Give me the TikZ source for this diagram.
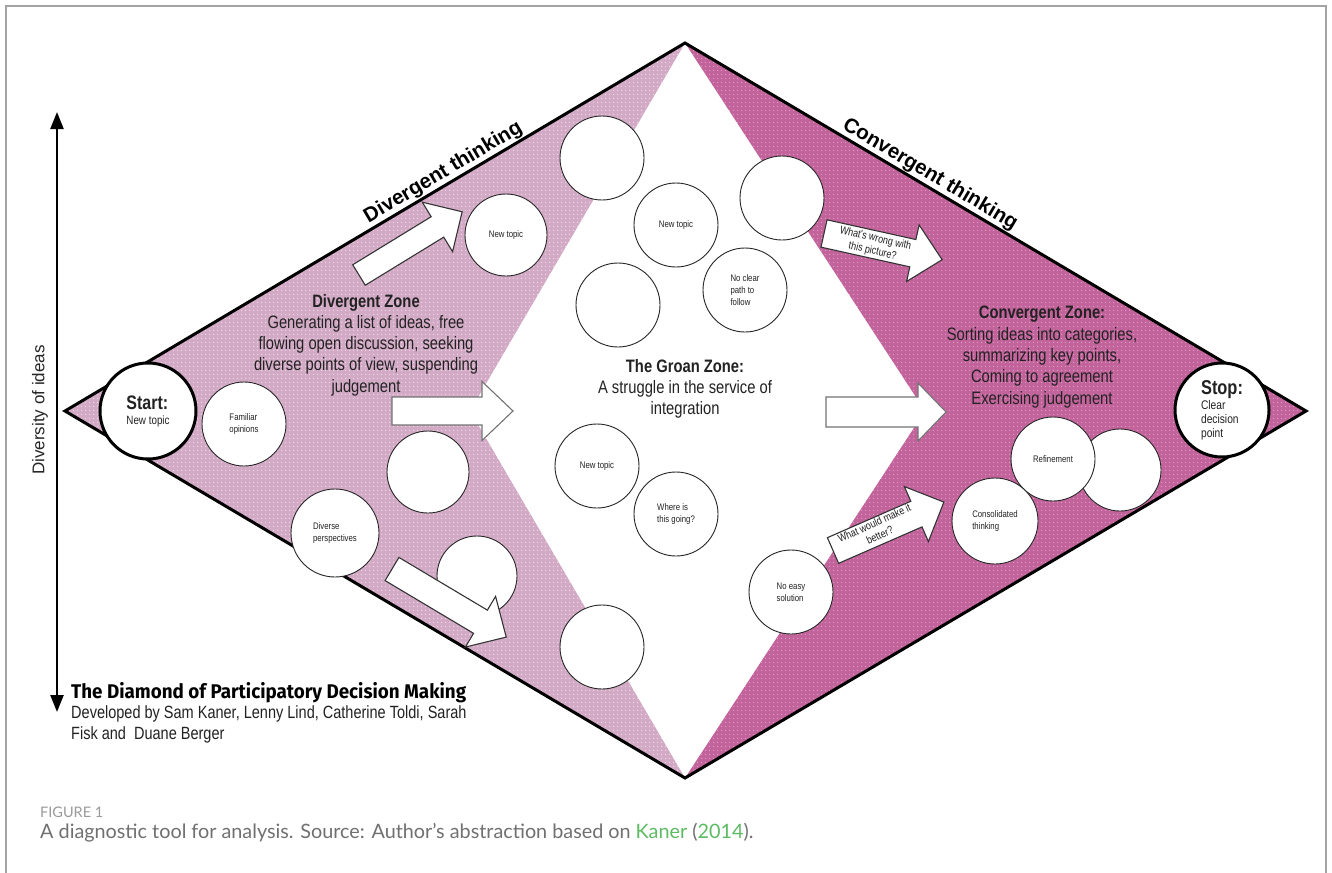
\documentclass[tikz,border=0pt]{standalone}
\usepackage{fontspec}
\setmainfont{Liberation Sans}
\newfontfamily\narrowfont{Liberation Sans}[FakeStretch=0.82]
\newfontfamily\titlefont{Fira Sans}[FakeStretch=0.95]
\newfontfamily\capfont{Lato}
\usetikzlibrary{arrows.meta,patterns.meta}

\definecolor{lightzone}{HTML}{D3AAC6}
\definecolor{lightdot}{HTML}{EEDCE9}
\definecolor{darkzone}{HTML}{C2639C}
\definecolor{darkdot}{HTML}{DDA2C5}
\definecolor{framegray}{HTML}{A3A3A3}
\definecolor{capgray}{HTML}{707070}
\definecolor{figgray}{HTML}{9A9A9A}
\definecolor{capgreen}{HTML}{5DBB63}
\definecolor{inktext}{HTML}{222222}

% fine dot texture laid over the two zones
\pgfdeclarepattern{
  name=softdots,
  type=uncolored,
  bottom left={\pgfpoint{0pt}{0pt}},
  top right={\pgfpoint{4pt}{4pt}},
  tile size={\pgfpoint{4pt}{4pt}},
  code={\pgfpathcircle{\pgfpoint{2pt}{2pt}}{0.7pt}\pgfusepath{fill}}
}

% block arrow: tail centre x, y, angle, length, shaft width, head width, head length, style
\newcommand\fatarrow[8]{%
  \begin{scope}[shift={(#1,#2)}, rotate=#3]
    \draw[#8] (0,#5/2) -- ({#4-#7},#5/2) -- ({#4-#7},#6/2) -- (#4,0)
      -- ({#4-#7},-#6/2) -- ({#4-#7},-#5/2) -- (0,-#5/2) -- cycle;
  \end{scope}}

\tikzset{
  edge/.style={line width=3pt, line join=miter, black},
  idea/.style={circle, draw=black!85, line width=0.9pt, fill=white, inner sep=0pt,
    align=left, text=inktext, font=\narrowfont\fontsize{9.5}{12}\selectfont},
  endpoint/.style={circle, draw=black, line width=3pt, fill=white, inner sep=0pt,
    align=left, text=inktext},
  zonetext/.style={align=center, text=inktext, inner sep=0pt,
    font=\narrowfont\fontsize{18}{21.3}\selectfont},
  blockgray/.style={draw=black!55, line width=1.1pt, fill=white, line join=miter},
  blockdark/.style={draw=black!80, line width=1.1pt, fill=white, line join=miter},
  arrowtext/.style={align=center, text=inktext, inner sep=0pt,
    font=\narrowfont\fontsize{11}{13}\selectfont},
  thinking/.style={font=\bfseries\fontsize{20.5}{24}\selectfont, inner sep=2pt}
}

\begin{document}
\begin{tikzpicture}[x=1pt, y=-1pt]
\useasboundingbox (0,0) rectangle (1332,872);
\fill[white] (0,0) rectangle (1332,872);

% frame
\draw[framegray, line width=1.3pt] (6,890) -- (6,6) -- (1326,6) -- (1326,890);

% diamond corners and the corners of the open middle zone
\coordinate (L) at (65,411);
\coordinate (T) at (685,43);
\coordinate (R) at (1306,411);
\coordinate (B) at (685,778);
\coordinate (WL) at (470,411);
\coordinate (WR) at (925,411);

% divergent and convergent zones
\fill[lightzone] (L) -- (T) -- (WL) -- (B) -- cycle;
\fill[pattern=softdots, pattern color=lightdot] (L) -- (T) -- (WL) -- (B) -- cycle;
\fill[darkzone] (T) -- (R) -- (B) -- (WR) -- cycle;
\fill[pattern=softdots, pattern color=darkdot] (T) -- (R) -- (B) -- (WR) -- cycle;

% diamond outline
\draw[edge] (L) -- (T) -- (R) -- (B) -- cycle;

% edge titles
\path (L) -- (T) node[pos=0.62, sloped, anchor=south, thinking] (divthink) {Divergent thinking};
\path (T) -- (R) node[pos=0.385, sloped, anchor=south, thinking] (convthink) {Convergent thinking};

% vertical axis
\coordinate (axtop) at (57,112);
\coordinate (axbot) at (57,712);
\draw[line width=2.4pt, {Triangle[length=17pt,width=13pt]}-{Triangle[length=17pt,width=13pt]}] (axtop) -- (axbot);
\node[rotate=90, text=black!85, font=\fontsize{17}{20}\selectfont] (axlabel) at (40,410) {Diversity of ideas};

% idea circles
\node[idea, minimum size=84pt] (famop) at (244,424) {Familiar\\opinions};
\node[idea, minimum size=88pt] (diverse) at (335,533) {Diverse\\perspectives};
\node[idea, minimum size=82pt] (blankA) at (428,472) {};
\node[idea, minimum size=80pt] (blankB) at (477,576) {};
\node[idea, minimum size=84pt] (blankC) at (602,647) {};
\node[idea, minimum size=82pt] (topicA) at (506,235) {New topic};
\node[idea, minimum size=84pt] (blankD) at (602,158) {};
\node[idea, minimum size=84pt] (topicB) at (676,225) {New topic};
\node[idea, minimum size=84pt] (blankE) at (618,305) {};
\node[idea, minimum size=84pt] (blankF) at (782,198) {};
\node[idea, minimum size=84pt] (nopath) at (745,290) {No clear\\path to\\follow};
\node[idea, minimum size=84pt] (topicC) at (597,466) {New topic};
\node[idea, minimum size=84pt] (where) at (676,514) {Where is\\this going?};
\node[idea, minimum size=84pt] (noeasy) at (791,592) {No easy\\solution};
\node[idea, minimum size=82pt] (blankG) at (1120,470) {};
\node[idea, minimum size=84pt] (refine) at (1053,459) {Refinement};
\node[idea, minimum size=86pt] (consol) at (995,521) {Consolidated\\thinking};

% start and stop
\node[endpoint, minimum size=96pt, font=\narrowfont\fontsize{12}{14}\selectfont] (start) at (148,411)
  {\textbf{\fontsize{19.5}{22}\selectfont Start:}\\[1pt]New topic};
\node[endpoint, minimum size=94pt, font=\narrowfont\fontsize{12.5}{14}\selectfont] (stop) at (1222,410)
  {\textbf{\fontsize{20}{22}\selectfont Stop:}\\[1pt]Clear\\decision\\point};

% block arrows
\fatarrow{359}{275}{31.5}{121}{24}{58}{29}{blockdark}
\fatarrow{392}{411}{0}{121}{28}{59}{31}{blockgray}
\fatarrow{392}{569}{-30.8}{133}{27}{59}{30}{blockdark}
\fatarrow{826}{412}{0}{120}{30}{58}{28}{blockgray}
\fatarrow{824}{233.5}{-12.5}{121}{28}{58}{30}{blockdark}
\fatarrow{833}{550.5}{23.6}{121}{28}{60}{30}{blockdark}

\node[arrowtext, rotate=-13] (wrong) at (874,245) {What's wrong with\\this picture?};
\node[arrowtext, rotate=24.5] (better) at (877,529) {What would make it\\better?};

% zone descriptions
\node[zonetext] (divzone) at (366,345)
  {\textbf{Divergent Zone}\\Generating a list of ideas, free\\flowing open discussion, seeking\\diverse points of view, suspending\\judgement};
\node[zonetext] (groan) at (685,389)
  {\textbf{The Groan Zone:}\\A struggle in the service of\\integration};
\node[zonetext] (convzone) at (1042,357)
  {\textbf{Convergent Zone:}\\Sorting ideas into categories,\\summarizing key points,\\Coming to agreement\\Exercising judgement};

% credit block
\node[anchor=west, inner sep=0pt, font=\titlefont\bfseries\fontsize{19.8}{23}\selectfont] (title) at (71,693)
  {The Diamond of Participatory Decision Making};
\node[anchor=north west, inner sep=0pt, align=left, text=inktext,
  font=\narrowfont\fontsize{17.7}{21}\selectfont] (credit) at (71,705)
  {Developed by Sam Kaner, Lenny Lind, Catherine Toldi, Sarah\\Fisk and\ \ Duane Berger};

% caption
\node[anchor=west, inner sep=0pt, text=figgray, font=\capfont\fontsize{14.5}{16}\selectfont] (fig) at (40,812) {FIGURE 1};
\node[anchor=west, inner sep=0pt, text=capgray, font=\capfont\fontsize{19.8}{22}\selectfont] (cap) at (40,833)
  {A diagnostic tool for analysis. Source: Author’s abstraction based on \textcolor{capgreen}{Kaner} (\textcolor{capgreen}{2014}).};
\end{tikzpicture}
\end{document}
